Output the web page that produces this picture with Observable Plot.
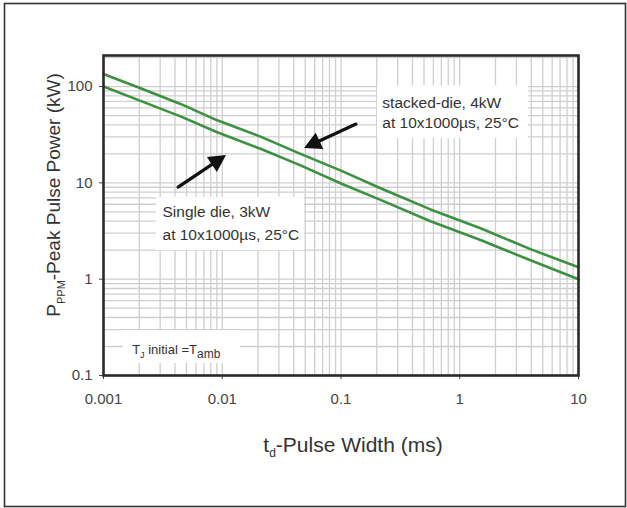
<!DOCTYPE html>
<html>
<head>
<meta charset="utf-8">
<script src="https://cdn.jsdelivr.net/npm/d3@7"></script>
<script src="https://cdn.jsdelivr.net/npm/@observablehq/plot@0.6"></script>
<style>
  html, body { margin: 0; padding: 0; background: #fff; }
  #chart svg { display: block; }
</style>
</head>
<body>
<div id="chart"></div>
<script>
// ---- data ----
const xTicks = [0.001, 0.01, 0.1, 1, 10];
const xTickLabels = ["0.001", "0.01", "0.1", "1", "10"];
const yTicks = [0.1, 1, 10, 100];
const yTickLabels = ["0.1", "1", "10", "100"];

const singleX = [0.001, 0.00205, 0.00445, 0.00907, 0.021, 0.0456, 0.1, 0.215, 0.567, 1.496, 3.94, 10];
const singleY = [100, 71, 49, 33.5, 22.6, 15.2, 9.85, 6.65, 4.0, 2.55, 1.57, 1.0];
const stackedX = [0.001, 0.00205, 0.00445, 0.00907, 0.021, 0.0456, 0.1, 0.215, 0.567, 1.496, 3.94, 10];
const stackedY = [135, 96, 66, 44.6, 30.2, 20, 13.4, 8.8, 5.3, 3.38, 2.05, 1.33];

const noteLines = ["stacked-die, 4kW", "at 10x1000µs, 25°C", "Single die, 3kW", "at 10x1000µs, 25°C"];
const noteX = [0.223, 0.223, 0.00314, 0.00314];
const noteY = [68.2, 41.3, 4.92, 2.84];

const boxX1 = [0.203, 0.00279, 0.00147];
const boxX2 = [3.79, 0.0493, 0.01426];
const boxY1 = [28.8, 1.98, 0.133];
const boxY2 = [102, 7.03, 0.292];

const arrowX1 = [0.135, 0.00429];
const arrowY1 = [40.3, 8.94];
const arrowX2 = [0.0493, 0.01086];
const arrowY2 = [22.7, 19.2];

const condX = [0.00176];
const condY = [0.186];

// ---- tables ----
const series = [
  ...singleX.map((x, i) => ({x, y: singleY[i], s: "single"})),
  ...stackedX.map((x, i) => ({x, y: stackedY[i], s: "stacked"}))
];
const notes = noteLines.map((t, i) => ({t, x: noteX[i], y: noteY[i]}));
const boxes = boxX1.map((x1, i) => ({x1, x2: boxX2[i], y1: boxY1[i], y2: boxY2[i]}));
const arrows = arrowX1.map((x1, i) => ({x1, y1: arrowY1[i], x2: arrowX2[i], y2: arrowY2[i]}));

const xDomain = [0.001, 10];
const yDomain = [0.1, 210];
const gridXs = d3.scaleLog().domain(xDomain).ticks();
const gridYs = d3.scaleLog().domain(yDomain).ticks().filter(v => v <= 200);

function sc(scales, key) {
  const s = scales[key];
  if (typeof s === "function") return s;
  return scales.scales[key].apply;
}

// filled arrows
function arrowMark(index, scales) {
  const sx = sc(scales, "x"), sy = sc(scales, "y");
  const g = d3.create("svg:g");
  for (const a of arrows) {
    const x1 = sx(a.x1), y1 = sy(a.y1), x2 = sx(a.x2), y2 = sy(a.y2);
    const dx = x2 - x1, dy = y2 - y1, L = Math.hypot(dx, dy);
    const ux = dx / L, uy = dy / L, px = -uy, py = ux;
    const hl = 17, hw = 9;
    const bx = x2 - ux * hl, by = y2 - uy * hl;
    g.append("line").attr("x1", x1).attr("y1", y1).attr("x2", bx + ux * 2).attr("y2", by + uy * 2)
      .attr("stroke", "#111").attr("stroke-width", 3.2).attr("stroke-linecap", "round");
    g.append("path")
      .attr("d", `M${x2},${y2}L${bx + px * hw},${by + py * hw}L${bx - px * hw},${by - py * hw}Z`)
      .attr("fill", "#111");
  }
  return g.node();
}

// condition label with subscripts
function condMark(index, scales) {
  const sx = sc(scales, "x"), sy = sc(scales, "y");
  const t = d3.create("svg:text")
    .attr("x", sx(condX[0])).attr("y", sy(condY[0]))
    .attr("dy", "0.35em")
    .attr("text-anchor", "start")
    .attr("font-size", 13).attr("fill", "#333")
    .attr("font-family", "'Liberation Sans', Arial, sans-serif");
  t.append("tspan").text("T");
  t.append("tspan").attr("font-size", 9).attr("dy", 4).text("J");
  t.append("tspan").attr("dy", -4).text(" initial =T");
  t.append("tspan").attr("font-size", 12).attr("dy", 4).text("amb");
  return t.node();
}

const chart = Plot.plot({
  width: 627,
  height: 508,
  marginLeft: 103,
  marginRight: 49,
  marginTop: 55,
  marginBottom: 133,
  style: {fontFamily: "'Liberation Sans', Arial, sans-serif", fontSize: "15px", color: "#444", background: "#fff"},
  x: {type: "log", domain: xDomain, ticks: xTicks, tickFormat: d => xTickLabels[xTicks.indexOf(d)], label: null, tickSize: 4, tickPadding: 14},
  y: {type: "log", domain: yDomain, ticks: yTicks, tickFormat: d => yTickLabels[yTicks.indexOf(d)], label: null, tickSize: 4, tickPadding: 7},
  marks: [
    Plot.ruleX(gridXs, {stroke: "#cfcfcf", strokeWidth: 1.3}),
    Plot.ruleY(gridYs, {stroke: "#cfcfcf", strokeWidth: 1.3}),
    Plot.rect(boxes, {x1: "x1", x2: "x2", y1: "y1", y2: "y2", fill: "#fff"}),
    Plot.line(series, {x: "x", y: "y", z: "s", stroke: "#3d9140", strokeWidth: 2.6, curve: "linear"}),
    Plot.text(notes, {x: "x", y: "y", text: "t", textAnchor: "start", fontSize: 15.5, fill: "#333"}),
    arrowMark,
    condMark,
    Plot.frame({stroke: "#2a2a2a", strokeWidth: 2.6})
  ]
});

const svg = d3.select(chart);
// outer border of the figure
svg.append("rect").attr("x", 4.5).attr("y", 3.5).attr("width", 621).attr("height", 503)
  .attr("fill", "none").attr("stroke", "#333").attr("stroke-width", 1.6);

// y-axis title with subscript
const yl = svg.append("text")
  .attr("transform", "translate(60,195) rotate(-90)")
  .attr("text-anchor", "middle")
  .attr("font-size", 19).attr("fill", "#333")
  .attr("font-family", "'Liberation Sans', Arial, sans-serif");
yl.append("tspan").text("P");
yl.append("tspan").attr("font-size", 11).attr("dy", 5).text("PPM");
yl.append("tspan").attr("dy", -5).text("-Peak Pulse Power (kW)");

// x-axis title with subscript
const xl = svg.append("text")
  .attr("x", 353).attr("y", 452)
  .attr("text-anchor", "middle")
  .attr("font-size", 21).attr("fill", "#333")
  .attr("font-family", "'Liberation Sans', Arial, sans-serif");
xl.append("tspan").text("t");
xl.append("tspan").attr("font-size", 12).attr("dy", 5).text("d");
xl.append("tspan").attr("dy", -5).text("-Pulse Width (ms)");

document.getElementById("chart").appendChild(chart);
</script>
</body>
</html>
